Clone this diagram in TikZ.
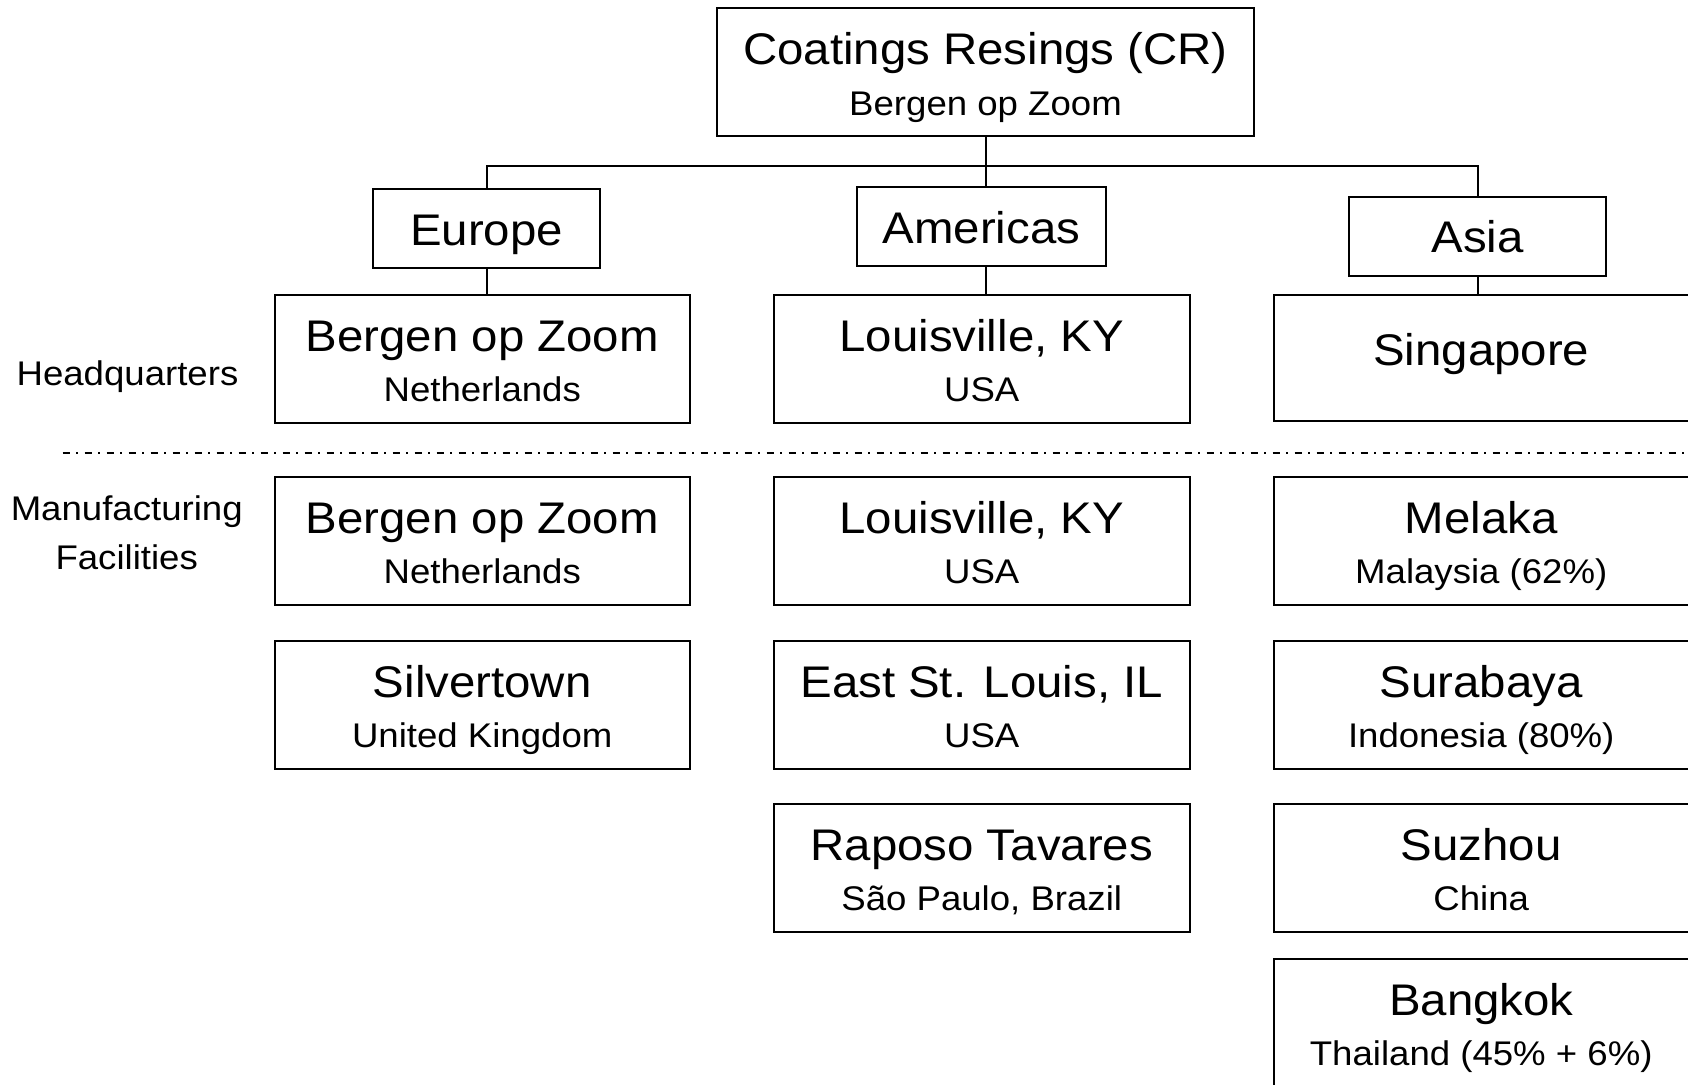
\documentclass[tikz,border=0pt]{standalone}
\usepackage{fontspec}
\setmainfont{Liberation Sans}[FakeStretch=1.07]
\usetikzlibrary{calc}
\tikzset{
  box/.style={draw, line width=1pt, inner sep=0pt, rectangle},
  bigt/.style={font=\fontsize{22.15pt}{26pt}\selectfont, inner sep=0pt},
  smallt/.style={font=\fontsize{17.1pt}{20pt}\selectfont, inner sep=0pt},
  link/.style={line width=1pt},
  sep/.style={line width=1pt, dash pattern=on 3.5pt off 3.25pt on 1pt off 3.25pt},
  colbox/.style={box, anchor=north, minimum width=207.75pt, minimum height=64pt},
  regbox/.style={box, anchor=north, minimum height=39.5pt},
}
\newcommand\tbox[5]{%
  \node[colbox] (#1) at (#2,#3) {};
  \node[bigt, anchor=base] (#1-a) at ($(#1.north)+(0,57.7)$) {#4};
  \node[smallt, anchor=base] (#1-b) at ($(#1.north)+(0,107.7)$) {#5};
}
\begin{document}
\begin{tikzpicture}[x=0.5pt, y=-0.5pt]
\useasboundingbox (0,0) rectangle (1688,1084);
% top
\node[box, anchor=north, minimum width=268.5pt, minimum height=64pt] (cr) at (985.5,6.5) {};
\node[bigt, anchor=base] (cr-a) at ($(cr.north)+(0,57.8)$) {Coatings Resings (CR)};
\node[smallt, anchor=base] (cr-b) at ($(cr.north)+(0,108.5)$) {Bergen op Zoom};
% regions
\node[regbox, minimum width=113.5pt] (eu) at (486.6,188) {};
\node[bigt, anchor=base] (eu-a) at ($(eu.north)+(0,57.5)$) {Europe};
\node[regbox, minimum width=124.5pt] (am) at (981.5,186.3) {};
\node[bigt, anchor=base] (am-a) at ($(am.north)+(0,57)$) {Americas};
\node[regbox, minimum width=128.85pt] (as) at (1477.5,195.7) {};
\node[bigt, anchor=base] (as-a) at ($(as.north)+(0,57)$) {Asia};
% headquarters
\tbox{euhq}{482.25}{294}{Bergen op Zoom}{Netherlands}
\tbox{amhq}{981.75}{294}{Louisville, KY}{USA}
\node[colbox, minimum height=63pt] (ashq) at (1481.25,294) {};
\node[bigt, anchor=base] (ashq-a) at ($(ashq.north)+(0,71)$) {Singapore};
% manufacturing
\tbox{eum1}{482.25}{476}{Bergen op Zoom}{Netherlands}
\tbox{eum2}{482.25}{639.5}{Silvertown}{United Kingdom}
\tbox{amm1}{981.75}{476}{Louisville, KY}{USA}
\tbox{amm2}{981.75}{639.5}{East St. Louis, IL}{USA}
\tbox{amm3}{981.75}{803}{Raposo Tavares}{São Paulo, Brazil}
\tbox{asm1}{1481.25}{476}{Melaka}{Malaysia (62\%)}
\tbox{asm2}{1481.25}{639.5}{Surabaya}{Indonesia (80\%)}
\tbox{asm3}{1481.25}{803}{Suzhou}{China}
\tbox{asm4}{1481.25}{958}{Bangkok}{Thailand (45\% + 6\%)}
% side labels
\node[smallt, anchor=base] (hq) at (127.5,385.5) {Headquarters};
\node[smallt, anchor=base] (mf1) at (126.7,520.7) {Manufacturing};
\node[smallt, anchor=base] (mf2) at (126.7,569) {Facilities};
% separator
\coordinate (dl) at (62.7,453.3);
\coordinate (dr) at (1688,453.3);
\draw[sep] (dl) -- (dr);
% connectors
\coordinate (bar) at (985.5,166);
\draw[link] (cr.south) -- (cr.south |- am.north);
\draw[link] (eu.north) -- (eu.north |- bar) -- (as.north |- bar) -- (as.north);
\draw[link] (eu.south) -- (eu.south |- euhq.north);
\draw[link] (cr.south |- am.south) -- (cr.south |- amhq.north);
\draw[link] (as.south) -- (as.south |- ashq.north);
\end{tikzpicture}
\end{document}
